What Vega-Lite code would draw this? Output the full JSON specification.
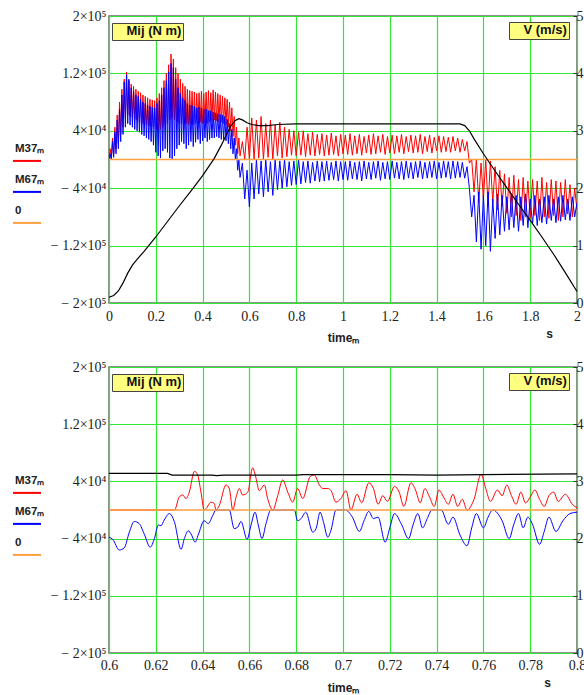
{
 "$schema": "https://vega.github.io/schema/vega-lite/v6.json",
 "background": "white",
 "padding": {"left": 11, "top": 8, "right": 0, "bottom": 0},
 "config": {
  "view": {"stroke": "#6b6b6b", "strokeWidth": 1.5},
  "axis": {"labelFont": "Liberation Serif, Times New Roman, serif", "labelFontSize": 14, "labelColor": "#222", "gridColor": "#33e633", "gridWidth": 1.2, "gridOpacity": 1, "domain": false, "ticks": false, "tickSize": 0, "titleFont": "Liberation Sans", "titleFontWeight": "bold", "titleFontSize": 12, "titleColor": "#222"},
  "legend": {"labelFont": "Liberation Sans", "labelFontWeight": "bold", "labelColor": "#222"}
 },
 "datasets": {
  "top": [
   {"t":0.000,"r":0,"b":0},{"t":0.005,"r":15000,"b":8000},{"t":0.010,"r":2000,"b":0},{"t":0.015,"r":30000,"b":25000},{"t":0.020,"r":8000,"b":3000},
   {"t":0.025,"r":45000,"b":38000},{"t":0.030,"r":15000,"b":8000},{"t":0.035,"r":62000,"b":55000},{"t":0.040,"r":22000,"b":15000},{"t":0.045,"r":80000,"b":70000},
   {"t":0.050,"r":35000,"b":25000},{"t":0.055,"r":98000,"b":90000},{"t":0.060,"r":45000,"b":35000},{"t":0.065,"r":112000,"b":108000},{"t":0.070,"r":58000,"b":45000},
   {"t":0.075,"r":122000,"b":118000},{"t":0.080,"r":62000,"b":50000},{"t":0.085,"r":110000,"b":112000},{"t":0.090,"r":60000,"b":48000},{"t":0.095,"r":105000,"b":100000},
   {"t":0.100,"r":58000,"b":45000},{"t":0.105,"r":102000,"b":95000},{"t":0.110,"r":56000,"b":42000},{"t":0.115,"r":98000,"b":90000},{"t":0.120,"r":55000,"b":40000},
   {"t":0.125,"r":95000,"b":88000},{"t":0.130,"r":52000,"b":38000},{"t":0.135,"r":93000,"b":84000},{"t":0.140,"r":50000,"b":35000},{"t":0.145,"r":90000,"b":80000},
   {"t":0.150,"r":50000,"b":33000},{"t":0.155,"r":88000,"b":78000},{"t":0.160,"r":48000,"b":30000},{"t":0.165,"r":86000,"b":76000},{"t":0.170,"r":47000,"b":28000},
   {"t":0.175,"r":84000,"b":74000},{"t":0.180,"r":46000,"b":25000},{"t":0.185,"r":83000,"b":73000},{"t":0.190,"r":45000,"b":20000},{"t":0.195,"r":82000,"b":72000},
   {"t":0.200,"r":42000,"b":10000},{"t":0.205,"r":86000,"b":78000},{"t":0.210,"r":40000,"b":5000},{"t":0.215,"r":92000,"b":82000},{"t":0.220,"r":42000,"b":2000},
   {"t":0.225,"r":100000,"b":90000},{"t":0.230,"r":45000,"b":12000},{"t":0.235,"r":110000,"b":100000},{"t":0.240,"r":48000,"b":15000},{"t":0.245,"r":120000,"b":110000},
   {"t":0.250,"r":50000,"b":10000},{"t":0.255,"r":132000,"b":122000},{"t":0.260,"r":55000,"b":2000},{"t":0.265,"r":147000,"b":134000},{"t":0.270,"r":58000,"b":0},
   {"t":0.275,"r":140000,"b":128000},{"t":0.280,"r":55000,"b":5000},{"t":0.285,"r":128000,"b":112000},{"t":0.290,"r":52000,"b":15000},{"t":0.295,"r":120000,"b":100000},
   {"t":0.300,"r":50000,"b":20000},{"t":0.305,"r":112000,"b":92000},{"t":0.310,"r":50000,"b":25000},{"t":0.315,"r":106000,"b":86000},{"t":0.320,"r":48000,"b":22000},
   {"t":0.325,"r":102000,"b":82000},{"t":0.330,"r":50000,"b":15000},{"t":0.335,"r":98000,"b":78000},{"t":0.340,"r":48000,"b":20000},{"t":0.345,"r":96000,"b":76000},
   {"t":0.350,"r":50000,"b":25000},{"t":0.355,"r":95000,"b":75000},{"t":0.360,"r":48000,"b":18000},{"t":0.365,"r":94000,"b":74000},{"t":0.370,"r":50000,"b":24000},
   {"t":0.375,"r":92000,"b":72000},{"t":0.380,"r":50000,"b":28000},{"t":0.385,"r":93000,"b":73000},{"t":0.390,"r":52000,"b":22000},{"t":0.395,"r":95000,"b":72000},
   {"t":0.400,"r":50000,"b":26000},{"t":0.405,"r":92000,"b":70000},{"t":0.410,"r":52000,"b":30000},{"t":0.415,"r":94000,"b":70000},{"t":0.420,"r":50000,"b":25000},
   {"t":0.425,"r":96000,"b":68000},{"t":0.430,"r":52000,"b":28000},{"t":0.435,"r":93000,"b":68000},{"t":0.440,"r":54000,"b":30000},{"t":0.445,"r":97000,"b":66000},
   {"t":0.450,"r":55000,"b":30000},{"t":0.455,"r":94000,"b":65000},{"t":0.460,"r":54000,"b":32000},{"t":0.465,"r":92000,"b":64000},{"t":0.470,"r":52000,"b":30000},
   {"t":0.475,"r":90000,"b":63000},{"t":0.480,"r":52000,"b":28000},{"t":0.485,"r":88000,"b":62000},{"t":0.490,"r":50000,"b":28000},{"t":0.495,"r":86000,"b":60000},
   {"t":0.500,"r":48000,"b":26000},{"t":0.505,"r":84000,"b":56000},{"t":0.510,"r":45000,"b":22000},{"t":0.515,"r":80000,"b":50000},{"t":0.520,"r":40000,"b":15000},
   {"t":0.525,"r":72000,"b":42000},{"t":0.530,"r":32000,"b":8000},{"t":0.535,"r":60000,"b":30000},{"t":0.540,"r":20000,"b":0},{"t":0.545,"r":45000,"b":15000},
   {"t":0.550,"r":8000,"b":-15000},{"t":0.555,"r":30000,"b":0},{"t":0.560,"r":5000,"b":-25000},
   {"t":0.57,"r":25000,"b":-5000},{"t":0.58,"r":0,"b":-55000},{"t":0.59,"r":45000,"b":-15000},
   {"t":0.60,"r":0,"b":-66000},{"t":0.61,"r":58000,"b":-5000},{"t":0.62,"r":0,"b":-55000},{"t":0.63,"r":55000,"b":0},{"t":0.64,"r":2000,"b":-48000},
   {"t":0.65,"r":60000,"b":-2000},{"t":0.66,"r":0,"b":-52000},{"t":0.67,"r":50000,"b":0},{"t":0.68,"r":3000,"b":-45000},{"t":0.69,"r":55000,"b":-3000},
   {"t":0.70,"r":0,"b":-50000},{"t":0.71,"r":48000,"b":0},{"t":0.72,"r":5000,"b":-42000},{"t":0.73,"r":52000,"b":-2000},{"t":0.74,"r":2000,"b":-40000},
   {"t":0.75,"r":45000,"b":0},{"t":0.76,"r":4000,"b":-38000},{"t":0.77,"r":42000,"b":-3000},{"t":0.78,"r":6000,"b":-36000},{"t":0.79,"r":40000,"b":-2000},
   {"t":0.80,"r":5000,"b":-35000},{"t":0.81,"r":38000,"b":0},{"t":0.82,"r":6000,"b":-34000},{"t":0.83,"r":40000,"b":-3000},{"t":0.84,"r":4000,"b":-32000},
   {"t":0.85,"r":36000,"b":-2000},{"t":0.86,"r":6000,"b":-33000},{"t":0.87,"r":38000,"b":-4000},{"t":0.88,"r":5000,"b":-30000},{"t":0.89,"r":35000,"b":-2000},
   {"t":0.90,"r":7000,"b":-31000},{"t":0.91,"r":36000,"b":-3000},{"t":0.92,"r":5000,"b":-30000},{"t":0.93,"r":34000,"b":-2000},{"t":0.94,"r":6000,"b":-29000},
   {"t":0.95,"r":37000,"b":-4000},{"t":0.96,"r":7000,"b":-28000},{"t":0.97,"r":33000,"b":-2000},{"t":0.98,"r":5000,"b":-30000},{"t":0.99,"r":35000,"b":-3000},
   {"t":1.00,"r":8000,"b":-28000},{"t":1.01,"r":34000,"b":-3000},{"t":1.02,"r":7000,"b":-29000},{"t":1.03,"r":36000,"b":-2000},{"t":1.04,"r":6000,"b":-27000},
   {"t":1.05,"r":33000,"b":-4000},{"t":1.06,"r":8000,"b":-28000},{"t":1.07,"r":35000,"b":-3000},{"t":1.08,"r":6000,"b":-30000},{"t":1.09,"r":32000,"b":-2000},
   {"t":1.10,"r":9000,"b":-27000},{"t":1.11,"r":34000,"b":-4000},{"t":1.12,"r":7000,"b":-28000},{"t":1.13,"r":36000,"b":-3000},{"t":1.14,"r":8000,"b":-26000},
   {"t":1.15,"r":33000,"b":-2000},{"t":1.16,"r":10000,"b":-29000},{"t":1.17,"r":35000,"b":-4000},{"t":1.18,"r":7000,"b":-27000},{"t":1.19,"r":32000,"b":-3000},
   {"t":1.20,"r":9000,"b":-28000},{"t":1.21,"r":34000,"b":-2000},{"t":1.22,"r":8000,"b":-26000},{"t":1.23,"r":33000,"b":-4000},{"t":1.24,"r":10000,"b":-27000},
   {"t":1.25,"r":35000,"b":-3000},{"t":1.26,"r":8000,"b":-28000},{"t":1.27,"r":32000,"b":-2000},{"t":1.28,"r":11000,"b":-26000},{"t":1.29,"r":34000,"b":-4000},
   {"t":1.30,"r":9000,"b":-27000},{"t":1.31,"r":33000,"b":-3000},{"t":1.32,"r":10000,"b":-25000},{"t":1.33,"r":35000,"b":-2000},{"t":1.34,"r":8000,"b":-27000},
   {"t":1.35,"r":32000,"b":-4000},{"t":1.36,"r":11000,"b":-26000},{"t":1.37,"r":34000,"b":-3000},{"t":1.38,"r":9000,"b":-25000},{"t":1.39,"r":31000,"b":-2000},
   {"t":1.40,"r":12000,"b":-27000},{"t":1.41,"r":33000,"b":-4000},{"t":1.42,"r":10000,"b":-26000},{"t":1.43,"r":32000,"b":-2000},{"t":1.44,"r":11000,"b":-25000},
   {"t":1.45,"r":31000,"b":-3000},{"t":1.46,"r":10000,"b":-27000},{"t":1.47,"r":32000,"b":-2000},{"t":1.48,"r":12000,"b":-26000},{"t":1.49,"r":30000,"b":-3000},
   {"t":1.50,"r":10000,"b":-25000},{"t":1.51,"r":28000,"b":-4000},{"t":1.52,"r":12000,"b":-26000},{"t":1.53,"r":25000,"b":-10000},{"t":1.54,"r":-5000,"b":-40000},
   {"t":1.55,"r":0,"b":-80000},{"t":1.56,"r":-45000,"b":-50000},{"t":1.57,"r":0,"b":-115000},{"t":1.58,"r":-60000,"b":-45000},{"t":1.59,"r":-5000,"b":-125000},
   {"t":1.60,"r":-55000,"b":-50000},{"t":1.61,"r":0,"b":-120000},{"t":1.62,"r":-65000,"b":-45000},{"t":1.63,"r":-2000,"b":-128000},{"t":1.64,"r":-60000,"b":-55000},
   {"t":1.65,"r":-10000,"b":-110000},{"t":1.66,"r":-70000,"b":-48000},{"t":1.67,"r":-15000,"b":-105000},{"t":1.68,"r":-65000,"b":-50000},{"t":1.69,"r":-20000,"b":-100000},
   {"t":1.70,"r":-75000,"b":-52000},{"t":1.71,"r":-25000,"b":-98000},{"t":1.72,"r":-80000,"b":-48000},{"t":1.73,"r":-22000,"b":-95000},{"t":1.74,"r":-78000,"b":-50000},
   {"t":1.75,"r":-28000,"b":-100000},{"t":1.76,"r":-85000,"b":-52000},{"t":1.77,"r":-25000,"b":-92000},{"t":1.78,"r":-80000,"b":-48000},{"t":1.79,"r":-30000,"b":-95000},
   {"t":1.80,"r":-82000,"b":-55000},{"t":1.81,"r":-28000,"b":-90000},{"t":1.82,"r":-78000,"b":-50000},{"t":1.83,"r":-30000,"b":-92000},{"t":1.84,"r":-85000,"b":-55000},
   {"t":1.85,"r":-25000,"b":-88000},{"t":1.86,"r":-80000,"b":-52000},{"t":1.87,"r":-32000,"b":-90000},{"t":1.88,"r":-82000,"b":-50000},{"t":1.89,"r":-28000,"b":-85000},
   {"t":1.90,"r":-78000,"b":-55000},{"t":1.91,"r":-30000,"b":-88000},{"t":1.92,"r":-85000,"b":-52000},{"t":1.93,"r":-32000,"b":-86000},{"t":1.94,"r":-80000,"b":-50000},
   {"t":1.95,"r":-28000,"b":-84000},{"t":1.96,"r":-76000,"b":-55000},{"t":1.97,"r":-35000,"b":-85000},{"t":1.98,"r":-80000,"b":-52000},{"t":1.99,"r":-40000,"b":-80000},
   {"t":2.00,"r":-70000,"b":-60000}
  ],
  "topV": [
   {"t":0,"v":0.10},{"t":0.02,"v":0.13},{"t":0.04,"v":0.21},{"t":0.06,"v":0.35},{"t":0.08,"v":0.52},{"t":0.10,"v":0.66},{"t":0.12,"v":0.76},{"t":0.15,"v":0.90},
   {"t":0.20,"v":1.15},{"t":0.25,"v":1.42},{"t":0.30,"v":1.69},{"t":0.35,"v":1.95},{"t":0.40,"v":2.22},{"t":0.45,"v":2.52},{"t":0.48,"v":2.75},{"t":0.50,"v":2.92},
   {"t":0.52,"v":3.08},{"t":0.54,"v":3.18},{"t":0.555,"v":3.21},{"t":0.57,"v":3.19},{"t":0.59,"v":3.14},{"t":0.61,"v":3.11},{"t":0.64,"v":3.09},{"t":0.68,"v":3.09},
   {"t":0.72,"v":3.11},{"t":0.80,"v":3.12},{"t":1.00,"v":3.12},{"t":1.20,"v":3.12},{"t":1.40,"v":3.12},{"t":1.50,"v":3.12},{"t":1.52,"v":3.09},{"t":1.54,"v":3.00},
   {"t":1.56,"v":2.86},{"t":1.60,"v":2.60},{"t":1.65,"v":2.30},{"t":1.70,"v":2.01},{"t":1.75,"v":1.72},{"t":1.80,"v":1.44},{"t":1.85,"v":1.15},{"t":1.90,"v":0.85},
   {"t":1.95,"v":0.53},{"t":2.00,"v":0.20}
  ],
  "botR": [
   {"t":0.6,"m":0},{"t":0.628,"m":0},{"t":0.6300,"m":18000},{"t":0.6315,"m":21000},{"t":0.6329,"m":16000},{"t":0.6343,"m":25000},{"t":0.6365,"m":54000},
   {"t":0.6379,"m":49000},{"t":0.6393,"m":25000},{"t":0.6407,"m":0},{"t":0.6415,"m":2000},{"t":0.6436,"m":11000},{"t":0.6450,"m":9000},{"t":0.6457,"m":0},
   {"t":0.6471,"m":6000},{"t":0.6500,"m":35000},{"t":0.6514,"m":30000},{"t":0.6529,"m":0},{"t":0.6543,"m":18000},{"t":0.6557,"m":30000},{"t":0.6571,"m":21000},
   {"t":0.6593,"m":25000},{"t":0.6614,"m":59000},{"t":0.6628,"m":45000},{"t":0.6642,"m":27000},{"t":0.6664,"m":35000},{"t":0.6678,"m":16000},{"t":0.6700,"m":0},
   {"t":0.6721,"m":20000},{"t":0.6742,"m":42000},{"t":0.6764,"m":25000},{"t":0.6785,"m":11000},{"t":0.6806,"m":30000},{"t":0.6828,"m":16000},{"t":0.6860,"m":47000},
   {"t":0.6877,"m":49000},{"t":0.6899,"m":35000},{"t":0.6913,"m":30000},{"t":0.6935,"m":30000},{"t":0.6949,"m":27000},{"t":0.6970,"m":11000},{"t":0.6991,"m":16000},
   {"t":0.7013,"m":27000},{"t":0.7034,"m":0},{"t":0.7060,"m":22000},{"t":0.7080,"m":10000},{"t":0.7110,"m":38000},{"t":0.7130,"m":30000},{"t":0.7150,"m":8000},
   {"t":0.7170,"m":20000},{"t":0.7190,"m":12000},{"t":0.7220,"m":33000},{"t":0.7240,"m":25000},{"t":0.7260,"m":5000},{"t":0.7290,"m":38000},{"t":0.7310,"m":28000},
   {"t":0.7330,"m":10000},{"t":0.7350,"m":30000},{"t":0.7370,"m":18000},{"t":0.7390,"m":5000},{"t":0.7410,"m":28000},{"t":0.7430,"m":18000},{"t":0.7450,"m":8000},
   {"t":0.7470,"m":22000},{"t":0.7490,"m":5000},{"t":0.7510,"m":15000},{"t":0.7530,"m":0},{"t":0.7560,"m":15000},{"t":0.7590,"m":50000},{"t":0.7610,"m":30000},
   {"t":0.7630,"m":12000},{"t":0.7660,"m":28000},{"t":0.7680,"m":20000},{"t":0.7700,"m":35000},{"t":0.7720,"m":20000},{"t":0.7740,"m":8000},{"t":0.7760,"m":25000},
   {"t":0.7780,"m":10000},{"t":0.7800,"m":18000},{"t":0.7820,"m":28000},{"t":0.7840,"m":15000},{"t":0.7860,"m":5000},{"t":0.7880,"m":20000},{"t":0.7900,"m":25000},
   {"t":0.7920,"m":12000},{"t":0.7950,"m":22000},{"t":0.7980,"m":8000},{"t":0.8000,"m":3000}
  ],
  "botB": [
   {"t":0.6000,"m":-38000},{"t":0.6016,"m":-41000},{"t":0.6044,"m":-56000},{"t":0.6065,"m":-53000},{"t":0.6087,"m":-31000},{"t":0.6108,"m":-16000},{"t":0.6129,"m":-19000},
   {"t":0.6151,"m":-34000},{"t":0.6176,"m":-52000},{"t":0.6194,"m":-40000},{"t":0.6211,"m":-21000},{"t":0.6222,"m":-22000},{"t":0.6236,"m":-14000},{"t":0.6258,"m":-5000},
   {"t":0.6279,"m":-16000},{"t":0.6308,"m":-55000},{"t":0.6322,"m":-40000},{"t":0.6339,"m":-29000},{"t":0.6353,"m":-35000},{"t":0.6368,"m":-45000},{"t":0.6381,"m":-35000},
   {"t":0.6407,"m":-15000},{"t":0.6424,"m":-19000},{"t":0.6443,"m":-8000},{"t":0.6457,"m":0},{"t":0.6514,"m":0},{"t":0.6535,"m":-26000},{"t":0.6550,"m":-24000},
   {"t":0.6564,"m":-16000},{"t":0.6590,"m":-41000},{"t":0.6607,"m":-21000},{"t":0.6624,"m":-3000},{"t":0.6638,"m":-21000},{"t":0.6654,"m":-40000},{"t":0.6671,"m":-19000},
   {"t":0.6692,"m":0},{"t":0.6792,"m":0},{"t":0.6806,"m":-15000},{"t":0.6821,"m":-12000},{"t":0.6841,"m":-3000},{"t":0.6871,"m":-31000},{"t":0.6885,"m":-26000},
   {"t":0.6902,"m":-3000},{"t":0.6916,"m":-16000},{"t":0.6935,"m":-38000},{"t":0.6949,"m":-28000},{"t":0.6970,"m":0},{"t":0.7010,"m":0},{"t":0.7040,"m":-10000},
   {"t":0.7070,"m":-30000},{"t":0.7090,"m":-15000},{"t":0.7110,"m":-2000},{"t":0.7130,"m":-12000},{"t":0.7150,"m":-10000},{"t":0.7180,"m":-45000},{"t":0.7200,"m":-25000},
   {"t":0.7220,"m":-5000},{"t":0.7250,"m":-20000},{"t":0.7280,"m":-40000},{"t":0.7300,"m":-20000},{"t":0.7320,"m":-5000},{"t":0.7340,"m":-25000},{"t":0.7360,"m":-12000},
   {"t":0.7380,"m":0},{"t":0.7420,"m":0},{"t":0.7450,"m":-20000},{"t":0.7470,"m":-10000},{"t":0.7500,"m":-35000},{"t":0.7530,"m":-50000},{"t":0.7550,"m":-25000},
   {"t":0.7570,"m":-5000},{"t":0.7600,"m":-25000},{"t":0.7620,"m":-10000},{"t":0.7640,"m":0},{"t":0.7680,"m":-15000},{"t":0.7710,"m":-40000},{"t":0.7730,"m":-20000},
   {"t":0.7750,"m":-5000},{"t":0.7770,"m":-25000},{"t":0.7790,"m":-10000},{"t":0.7810,"m":-20000},{"t":0.7840,"m":-48000},{"t":0.7860,"m":-30000},{"t":0.7880,"m":-10000},
   {"t":0.7910,"m":-30000},{"t":0.7940,"m":-15000},{"t":0.7970,"m":-5000},{"t":0.8000,"m":-3000}
  ],
  "botV": [
   {"t":0.6,"v":3.14},{"t":0.625,"v":3.14},{"t":0.627,"v":3.11},{"t":0.644,"v":3.11},{"t":0.646,"v":3.10},{"t":0.649,"v":3.11},{"t":0.68,"v":3.11},{"t":0.683,"v":3.12},
   {"t":0.72,"v":3.12},{"t":0.74,"v":3.11},{"t":0.76,"v":3.12},{"t":0.8,"v":3.13}
  ],
  "zero": [{"m":0}]
 },
 "spacing": 64,
 "bounds": "flush",
 "resolve": {"scale": {"color": "independent", "strokeDash": "independent", "opacity": "independent"}, "legend": {"color": "independent", "strokeDash": "independent", "opacity": "independent"}},
 "vconcat": [
  {
   "width": 468, "height": 287,
   "layer": [
    {"data": {"name": "top"}, "mark": {"type": "line", "strokeWidth": 1, "clip": true},
     "encoding": {
      "x": {"field": "t", "type": "quantitative", "scale": {"domain": [0, 2], "nice": false, "zero": false},
            "axis": {"values": [0,0.2,0.4,0.6,0.8,1,1.2,1.4,1.6,1.8,2], "labelExpr": "format(datum.value, '~g')", "labelPadding": 6, "labelFlush": false, "title": "timeₘ", "titleY": 34, "titleBaseline": "middle"}},
      "y": {"field": "r", "type": "quantitative", "scale": {"domain": [-200000, 200000], "nice": false},
            "axis": {"values": [-200000,-120000,-40000,40000,120000,200000], "labelExpr": "datum.value == 200000 ? '2×10⁵' : datum.value == 120000 ? '1.2×10⁵' : datum.value == 40000 ? '4×10⁴' : datum.value == -40000 ? '− 4×10⁴' : datum.value == -120000 ? '− 1.2×10⁵' : '− 2×10⁵'", "labelPadding": 3, "title": null}},
      "color": {"datum": "M37ₘ", "type": "nominal", "scale": {"domain": ["M37ₘ","M67ₘ","0"], "range": ["#ff0000","#0000ff","#ffa040"]},
            "legend": {"orient": "none", "legendX": -97, "legendY": 118, "title": null, "symbolType": "M-1,0.85L1,0.85", "symbolSize": 784, "symbolStrokeWidth": 2, "labelOffset": -27, "labelFontSize": 11.5, "rowPadding": -2}}
     }},
    {"data": {"name": "top"}, "mark": {"type": "line", "strokeWidth": 1, "clip": true},
     "encoding": {
      "x": {"field": "t", "type": "quantitative"},
      "y": {"field": "b", "type": "quantitative", "scale": {"domain": [-200000, 200000], "nice": false}, "axis": null},
      "color": {"datum": "M67ₘ", "type": "nominal"}
     }},
    {"data": {"name": "zero"}, "mark": {"type": "rule", "strokeWidth": 1.3},
     "encoding": {
      "y": {"field": "m", "type": "quantitative", "scale": {"domain": [-200000, 200000], "nice": false}, "axis": null},
      "color": {"datum": "0", "type": "nominal"},
      "strokeDash": {"datum": "Mij (N m)", "type": "nominal", "scale": {"range": [[1, 0]]},
            "legend": {"orient": "none", "legendX": 3, "legendY": 7, "title": null, "symbolOpacity": 0, "symbolSize": 0, "labelOffset": 0, "fillColor": "#ffff80", "strokeColor": "#444", "padding": 1.5, "labelFontSize": 13, "labelColor": "#111"}}
     }},
    {"data": {"name": "topV"}, "mark": {"type": "line", "color": "#000000", "strokeWidth": 1.2},
     "encoding": {
      "x": {"field": "t", "type": "quantitative"},
      "y": {"field": "v", "type": "quantitative", "scale": {"domain": [0, 5], "nice": false},
            "axis": {"orient": "right", "values": [0,1,2,3,4,5], "grid": false, "labelPadding": 3, "ticks": true, "tickSize": -4, "tickColor": "#333", "title": "s", "titleAngle": 0, "titleX": -28, "titleY": 317, "titleAlign": "center", "titleBaseline": "middle"}},
      "opacity": {"datum": "V (m/s)", "type": "nominal", "scale": {"range": [1]},
            "legend": {"orient": "none", "legendX": 400, "legendY": 6, "title": null, "symbolOpacity": 0, "symbolSize": 0, "labelOffset": 0, "fillColor": "#ffff80", "strokeColor": "#444", "padding": 1.5, "labelFontSize": 13, "labelColor": "#111"}}
     }}
   ],
   "resolve": {"scale": {"y": "independent"}}
  },
  {
   "width": 468, "height": 286,
   "layer": [
    {"data": {"name": "botR"}, "mark": {"type": "line", "strokeWidth": 1, "interpolate": "monotone", "clip": true},
     "encoding": {
      "x": {"field": "t", "type": "quantitative", "scale": {"domain": [0.6, 0.8], "nice": false, "zero": false},
            "axis": {"values": [0.6,0.62,0.64,0.66,0.68,0.7,0.72,0.74,0.76,0.78,0.8], "labelExpr": "format(datum.value, '~g')", "labelPadding": 5, "labelFlush": false, "title": "timeₘ", "titleY": 34, "titleBaseline": "middle"}},
      "y": {"field": "m", "type": "quantitative", "scale": {"domain": [-200000, 200000], "nice": false},
            "axis": {"values": [-200000,-120000,-40000,40000,120000,200000], "labelExpr": "datum.value == 200000 ? '2×10⁵' : datum.value == 120000 ? '1.2×10⁵' : datum.value == 40000 ? '4×10⁴' : datum.value == -40000 ? '− 4×10⁴' : datum.value == -120000 ? '− 1.2×10⁵' : '− 2×10⁵'", "labelPadding": 3, "title": null}},
      "color": {"datum": "M37ₘ", "type": "nominal", "scale": {"domain": ["M37ₘ","M67ₘ","0"], "range": ["#ff0000","#0000ff","#ffa040"]},
            "legend": {"orient": "none", "legendX": -97, "legendY": 99, "title": null, "symbolType": "M-1,0.85L1,0.85", "symbolSize": 784, "symbolStrokeWidth": 2, "labelOffset": -27, "labelFontSize": 11.5, "rowPadding": -2}}
     }},
    {"data": {"name": "botB"}, "mark": {"type": "line", "strokeWidth": 1, "interpolate": "monotone", "clip": true},
     "encoding": {
      "x": {"field": "t", "type": "quantitative"},
      "y": {"field": "m", "type": "quantitative", "scale": {"domain": [-200000, 200000], "nice": false}, "axis": null},
      "color": {"datum": "M67ₘ", "type": "nominal"}
     }},
    {"data": {"name": "zero"}, "mark": {"type": "rule", "strokeWidth": 1.3},
     "encoding": {
      "y": {"field": "m", "type": "quantitative", "scale": {"domain": [-200000, 200000], "nice": false}, "axis": null},
      "color": {"datum": "0", "type": "nominal"},
      "strokeDash": {"datum": "Mij (N m)", "type": "nominal", "scale": {"range": [[1, 0]]},
            "legend": {"orient": "none", "legendX": 3, "legendY": 7, "title": null, "symbolOpacity": 0, "symbolSize": 0, "labelOffset": 0, "fillColor": "#ffff80", "strokeColor": "#444", "padding": 1.5, "labelFontSize": 13, "labelColor": "#111"}}
     }},
    {"data": {"name": "botV"}, "mark": {"type": "line", "color": "#000000", "strokeWidth": 1.2},
     "encoding": {
      "x": {"field": "t", "type": "quantitative"},
      "y": {"field": "v", "type": "quantitative", "scale": {"domain": [0, 5], "nice": false},
            "axis": {"orient": "right", "values": [0,1,2,3,4,5], "grid": false, "labelPadding": 3, "ticks": true, "tickSize": -4, "tickColor": "#333", "title": "s", "titleAngle": 0, "titleX": -30, "titleY": 315, "titleAlign": "center", "titleBaseline": "middle"}},
      "opacity": {"datum": "V (m/s)", "type": "nominal", "scale": {"range": [1]},
            "legend": {"orient": "none", "legendX": 400, "legendY": 6, "title": null, "symbolOpacity": 0, "symbolSize": 0, "labelOffset": 0, "fillColor": "#ffff80", "strokeColor": "#444", "padding": 1.5, "labelFontSize": 13, "labelColor": "#111"}}
     }}
   ],
   "resolve": {"scale": {"y": "independent"}}
  }
 ]
}
